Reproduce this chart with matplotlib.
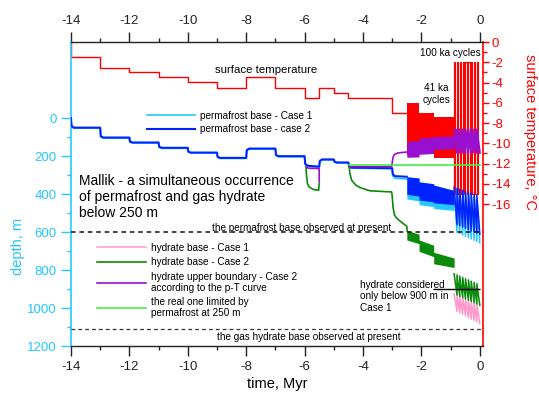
import matplotlib
matplotlib.use("Agg")
import matplotlib.pyplot as plt
from matplotlib.ticker import FixedLocator

plt.rcParams['font.family'] = ['Liberation Sans', 'DejaVu Sans']
plt.rcParams['axes.unicode_minus'] = False

# surface temperature (deg C) before the 41 ka cycles, step values
temp_t = [-14, -14, -13, -12, -11, -10, -9, -8, -7, -6, -5.5, -5, -4.5, -3, -2.5]
temp_v = [0, -1.5, -2.55, -3.0, -3.5, -3.95, -4.5, -3.5, -4.55, -5.5, -4.5, -5.0, -5.55, -7.05, -7.05]

# 41 ka cycles: block edges (Myr), warm/cold envelope (deg C)
blk41 = [-2.5, -2.08, -1.58, -0.88]
warm41 = [-6.0, -7.0, -7.45]
cold41 = [-11.2, -11.0, -11.5]

# 100 ka cycles: cycle starts (+ final end), warm / cold temperature
cyc100 = [-0.88, -0.78, -0.685, -0.585, -0.49, -0.39, -0.295, -0.195, -0.1, 0.0]
warm100 = -2.0
cold100 = -15.0
warm100_len = 0.04

# permafrost base, case 2 (blue) and case 1 (cyan), m
pf_t = [-14, -13.98, -13.9, -13, -12.98, -12.9, -12, -11.98, -11.9, -11, -10.98, -10.9,
        -10, -9.98, -9.9, -9, -8.98, -8.9, -8, -7.98, -7.9, -7, -6.98, -6.9, -6, -5.98,
        -5.9, -5.5, -5.48, -5.4, -5, -4.98, -4.9, -4.5, -4.48, -4.4, -3, -2.98, -2.9, -2.5]
pf2_d = [0, 42, 50, 50, 95, 102, 102, 123, 128, 128, 150, 156, 156, 176, 181, 181, 203, 209,
         209, 168, 160, 160, 193, 200, 200, 240, 250, 255, 225, 217, 217, 228, 233, 233, 252,
         260, 263, 295, 305, 308]
pf1_d = [0, 45, 53, 53, 98, 105, 105, 126, 131, 131, 153, 159, 159, 179, 184, 184, 206, 212,
         212, 171, 163, 163, 196, 203, 203, 243, 253, 258, 228, 220, 220, 231, 236, 236, 255,
         263, 266, 305, 316, 320]

# 41 ka bands, (start, end) depth per block
pf2_top41 = [(308, 315), (335, 345), (352, 380)]
pf2_bot41 = [(400, 410), (430, 440), (445, 455)]
pf1_bot41 = [(425, 435), (455, 465), (475, 485)]
hb2_top41 = [(590, 610), (640, 668), (705, 735)]
hb2_bot41 = [(640, 660), (700, 728), (765, 785)]
hu2_top41 = [(122, 118), (104, 100), (97, 93)]
hu2_bot41 = [(206, 204), (190, 186), (165, 160)]

# 100 ka sawtooth, top / bottom depth per cycle
pf2_top100 = [362, 368, 373, 379, 385, 390, 395, 400, 405]
pf2_bot100 = [560, 566, 572, 579, 586, 593, 599, 604, 610]
pf1_top100 = [375, 381, 386, 392, 398, 404, 409, 414, 420]
pf1_bot100 = [600, 607, 614, 621, 628, 635, 642, 648, 655]
hb2_top100 = [818, 824, 830, 837, 844, 850, 857, 863, 870]
hb2_bot100 = [930, 937, 944, 950, 957, 964, 970, 977, 984]
hb1_top100 = [925, 932, 939, 945, 952, 959, 965, 972, 979]
hb1_bot100 = [1015, 1023, 1031, 1040, 1048, 1056, 1064, 1072, 1080]
hu2_top100 = [60, 60, 60, 60, 60, 60, 60, 60, 60]
hu2_bot100 = [182, 182, 182, 182, 182, 182, 182, 182, 182]

# hydrate base case 2 (green) and upper boundary case 2 (purple) before 41 ka
hb2a_t = [-5.95, -5.93, -5.9, -5.85, -5.7, -5.52, -5.5]
hb2a_d = [262, 309, 344, 361, 375, 379, 344]
hb2b_t = [-4.47, -4.45, -4.39, -4.25, -4.1, -3.76, -3.02, -3.0, -2.97, -2.92, -2.85, -2.7, -2.5, -2.49]
hb2b_d = [258, 290, 326, 352, 365, 382, 388, 410, 470, 510, 525, 545, 568, 592]
hu2a_t = [-5.95, -5.9, -5.8, -5.5, -5.5]
hu2a_d = [255, 262, 264, 265, 335]
hu2b_t = [-4.47, -4.4, -3.02, -3.0, -2.97, -2.92, -2.8, -2.5]
hu2b_d = [255, 255, 255, 235, 205, 190, 183, 178]
lime_t = [-4.47, 0.0]
lime_d = [248, 248]

pf_present = 600
gh_present = 1110
limit_900 = 900

CYAN = '#22c8ff'
BLUE = '#0022ff'
PURPLE = '#9a10d0'
GREEN = '#0a8a0a'
PINK = '#ff99cc'
LIME = '#44ee44'
RED = '#ff0000'


def band(edges, pairs):
    xs, ys = [], []
    for i, (a, b) in enumerate(pairs):
        xs += [edges[i], edges[i + 1]]
        ys += [a, b]
    return xs, ys


def saw(starts, tops, bots):
    xs, ys = [], []
    for i in range(len(tops)):
        xs += [starts[i], starts[i + 1]]
        ys += [tops[i], bots[i]]
    return xs, ys


fig = plt.figure(figsize=(5.39, 3.94), dpi=100)
ax = fig.add_axes([0.1317, 0.1206, 0.7639, 0.7728])
ax2 = ax.twinx()
ax.set_zorder(ax2.get_zorder() + 1)
ax.patch.set_visible(False)

# ---- temperature (right axis)
ax2.step(temp_t, temp_v, where='post', color=RED, lw=1.0)
ax2.fill_between(blk41, warm41 + [warm41[-1]], cold41 + [cold41[-1]], step='post', color=RED, lw=0)
rt, rv = [blk41[-1]], [cold41[-1]]
for i in range(len(cyc100) - 1):
    s = cyc100[i]
    rt += [s, s, s + warm100_len, s + warm100_len]
    rv += [cold100, warm100, warm100, cold100]
ax2.plot(rt, rv, color=RED, lw=0.8)
ax2.set_ylim(-30.07, 0)

# ---- depth (left axis)
x, top = band(blk41, pf2_top41)
_, bot1 = band(blk41, pf1_bot41)
_, bot2 = band(blk41, pf2_bot41)
ax.fill_between(x, top, bot1, color=CYAN, lw=0, zorder=2)
ax.fill_between(x, top, bot2, color=BLUE, lw=0, zorder=3)
l_pf1, = ax.plot(pf_t, pf1_d, color=CYAN, lw=1.2, zorder=2, label='permafrost base - Case 1')
l_pf2, = ax.plot(pf_t, pf2_d, color=BLUE, lw=1.5, zorder=3, label='permafrost base - case 2')
sx, sy = saw(cyc100, pf1_top100, pf1_bot100)
ax.plot(sx, sy, color=CYAN, lw=1.1, zorder=2)
sx, sy = saw(cyc100, pf2_top100, pf2_bot100)
ax.plot(sx, sy, color=BLUE, lw=1.1, zorder=3)

# hydrate upper boundary, case 2
x, top = band(blk41, hu2_top41)
_, bot = band(blk41, hu2_bot41)
ax.fill_between(x, top, bot, color=PURPLE, lw=0, zorder=4)
l_hu2, = ax.plot(hu2a_t, hu2a_d, color=PURPLE, lw=1.2, zorder=4,
                 label='hydrate upper boundary - Case 2\naccording to the p-T curve')
ax.plot(hu2b_t, hu2b_d, color=PURPLE, lw=1.2, zorder=4)
sx, sy = saw(cyc100, hu2_top100, hu2_bot100)
ax.plot(sx, sy, color=PURPLE, lw=1.5, zorder=4)

# hydrate base, case 2 and case 1
x, top = band(blk41, hb2_top41)
_, bot = band(blk41, hb2_bot41)
ax.fill_between(x, top, bot, color=GREEN, lw=0, zorder=5)
l_hb2, = ax.plot(hb2a_t, hb2a_d, color=GREEN, lw=1.2, zorder=5, label='hydrate base - Case 2')
ax.plot(hb2b_t, hb2b_d, color=GREEN, lw=1.2, zorder=5)
sx, sy = saw(cyc100, hb2_top100, hb2_bot100)
ax.plot(sx, sy, color=GREEN, lw=1.1, zorder=5)
sx, sy = saw(cyc100, hb1_top100, hb1_bot100)
l_hb1, = ax.plot(sx, sy, color=PINK, lw=1.1, zorder=4.5, label='hydrate base - Case 1')

l_lime, = ax.plot(lime_t, lime_d, color=LIME, lw=1.2, zorder=6,
                  label='the real one limited by\npermafrost at 250 m')

ax.axhline(pf_present, color='#111111', lw=1.1, dashes=(3, 2.5), zorder=7)
ax.axhline(gh_present, color='#333333', lw=0.9, dashes=(3, 2.5), zorder=7)
ax.hlines(limit_900, -1.6, 0, color='black', lw=1.0, zorder=7)

ax.set_xlim(-14, 0.1)
ax.set_ylim(1200, -400)

# ---- texts
ax.text(-6.1, 577, 'the permafrost base observed at present', fontsize=7.2, ha='center', va='center')
ax.text(-5.85, 1151, 'the gas hydrate base observed at present', fontsize=7.2, ha='center', va='center')
ax.text(-13.73, 414, 'Mallik - a simultaneous occurrence\nof permafrost and gas hydrate\nbelow 250 m',
        fontsize=10, ha='left', va='center')
ax.text(-4.1, 937, 'hydrate considered\nonly below 900 m in\nCase 1', fontsize=7.2, ha='left', va='center')
ax2.text(-7.32, -2.77, 'surface temperature', fontsize=8.2, ha='center', va='center')
ax2.text(-1.0, -1.1, '100 ka cycles', fontsize=7.2, ha='center', va='center')
ax2.text(-1.5, -5.14, '41 ka\ncycles', fontsize=7.2, ha='center', va='center')

leg1 = ax.legend(handles=[l_pf1, l_pf2], loc='upper left', bbox_to_anchor=(0.184, 0.775),
                 frameon=False, fontsize=7.2, handlelength=4.8, handletextpad=0.5,
                 labelspacing=0.38, borderpad=0, borderaxespad=0)
ax.add_artist(leg1)
leg2 = ax.legend(handles=[l_hb1, l_hb2, l_hu2, l_lime], loc='upper left',
                 bbox_to_anchor=(0.0624, 0.34), frameon=False, fontsize=7.2,
                 handlelength=4.9, handletextpad=0.5, labelspacing=0.45,
                 borderpad=0, borderaxespad=0)
for t in leg2.get_texts():
    t.set_linespacing(1.12)

# ---- axes styling
ax.xaxis.set_major_locator(FixedLocator([-14, -12, -10, -8, -6, -4, -2, 0]))
ax.xaxis.set_minor_locator(FixedLocator([-13, -11, -9, -7, -5, -3, -1]))
ax.yaxis.set_major_locator(FixedLocator([0, 200, 400, 600, 800, 1000, 1200]))
ax.yaxis.set_minor_locator(FixedLocator([100, 300, 500, 700, 900, 1100]))
ax2.yaxis.set_major_locator(FixedLocator([0, -2, -4, -6, -8, -10, -12, -14, -16]))
ax2.yaxis.set_minor_locator(FixedLocator([-1, -3, -5, -7, -9, -11, -13, -15]))

ax.tick_params(axis='x', which='both', top=True, labeltop=True, direction='out',
               labelsize=9.5, colors='#222222', width=1.0)
ax.tick_params(axis='x', which='major', length=7)
ax.tick_params(axis='x', which='minor', length=3.2)
ax.tick_params(axis='y', which='both', colors=CYAN, labelsize=9.5, width=1.0, right=False)
ax.tick_params(axis='y', which='major', length=7)
ax.tick_params(axis='y', which='minor', length=3.2)
ax2.tick_params(axis='y', which='both', colors=RED, labelsize=9.5, width=1.0, pad=2)
ax2.tick_params(axis='y', which='major', length=4.3)
ax2.tick_params(axis='y', which='minor', length=2.7)

ax.spines['right'].set_visible(False)
ax.spines['left'].set_color(CYAN)
ax.spines['left'].set_linewidth(1.2)
for s in ['top', 'bottom']:
    ax.spines[s].set_color('#222222')
    ax.spines[s].set_linewidth(1.0)
for s in ['left', 'top', 'bottom']:
    ax2.spines[s].set_visible(False)
ax2.spines['right'].set_color(RED)
ax2.spines['right'].set_linewidth(1.2)

ax.set_xlabel('time, Myr', fontsize=10.5)
ax.xaxis.set_label_coords(0.5, -0.099)
ax.set_ylabel('depth, m', fontsize=10.5, color=CYAN, va='center')
ax.yaxis.set_label_coords(-0.128, 0.33)
ax2.set_ylabel('surface temperature, °C', fontsize=10.5, color=RED, rotation=270, va='center', ha='center')
ax2.yaxis.set_label_coords(1.116, 0.703)

fig.savefig('out.png', dpi=100)
